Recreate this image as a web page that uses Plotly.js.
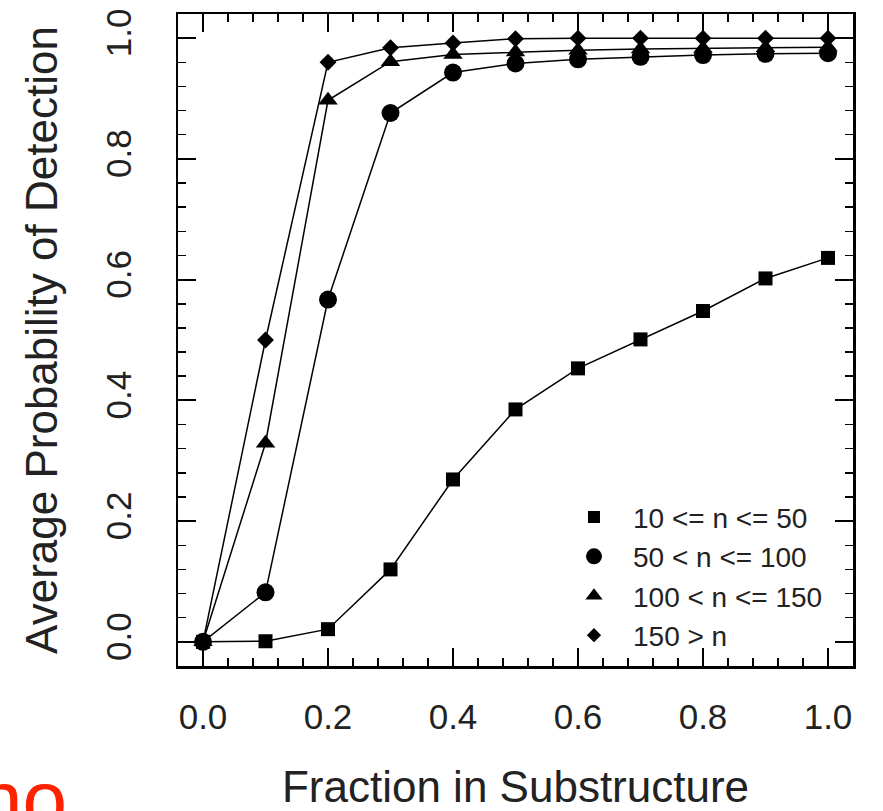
<!DOCTYPE html>
<html>
<head>
<meta charset="utf-8">
<script src="https://cdn.plot.ly/plotly-3.0.1.min.js"></script>
<style>
  html, body { margin: 0; padding: 0; background: #ffffff; }
  #chart { width: 883px; height: 811px; }
</style>
</head>
<body>
<div id="chart"></div>
<script>
// Fraction in substructure (x) and average probability of detection per group
const fraction = [0.0, 0.1, 0.2, 0.3, 0.4, 0.5, 0.6, 0.7, 0.8, 0.9, 1.0];
const seriesNames = ["10 <= n <= 50", "50 < n <= 100", "100 < n <= 150", "150 > n"];
const probSmall  = [0.0, 0.001, 0.021, 0.120, 0.269, 0.385, 0.453, 0.501, 0.548, 0.602, 0.636];
const probMedium = [0.0, 0.082, 0.567, 0.876, 0.943, 0.958, 0.965, 0.969, 0.972, 0.974, 0.975];
const probLarge  = [0.0, 0.329, 0.897, 0.961, 0.973, 0.977, 0.980, 0.982, 0.983, 0.984, 0.985];
const probHuge   = [0.0, 0.500, 0.960, 0.984, 0.992, 0.999, 1.0, 1.0, 1.0, 1.0, 1.0];
// the top series' line runs on past the last point to the frame
const hugeTailX = [1.1];
const hugeTailY = [1.0];

const xTicks = [0.0, 0.2, 0.4, 0.6, 0.8, 1.0];
const yTicks = [0.0, 0.2, 0.4, 0.6, 0.8, 1.0];

const FONT = "Liberation Sans, Arial, Helvetica, sans-serif";
const symbols = ["square", "circle", "triangle-up", "diamond"];
const sizes = [14, 18, 17, 13];
const values = [probSmall, probMedium, probLarge, probHuge];

const traces = [];
values.forEach((v, i) => {
  let xs = fraction, ys = v;
  if (i === 3) { xs = fraction.concat(hugeTailX); ys = v.concat(hugeTailY); }
  traces.push({
    type: "scatter", mode: "lines+markers", x: xs, y: ys,
    line: { color: "#000", width: 1.5 },
    marker: { symbol: symbols[i], size: sizes[i], color: "#000" },
    showlegend: false, cliponaxis: true, hoverinfo: "skip"
  });
});
// legend entries (points only, as in the original)
values.forEach((v, i) => {
  traces.push({
    type: "scatter", mode: "markers", x: [null], y: [null], name: seriesNames[i],
    marker: { symbol: symbols[i], size: sizes[i] - 2, color: "#000" },
    showlegend: true
  });
});

const axisCommon = {
  range: [-0.04, 1.04], tickformat: ".1f",
  showline: true, mirror: "allticks", linecolor: "#000", linewidth: 2.5,
  ticks: "inside", ticklen: 18, tickwidth: 2, tickcolor: "#000",
  minor: { ticks: "inside", ticklen: 8, tickwidth: 1.5, tickcolor: "#000", dtick: 0.04, tick0: 0, showgrid: false },
  showgrid: false, zeroline: false, automargin: false,
  tickfont: { family: FONT, size: 35, color: "#222" }
};

const layout = {
  width: 883, height: 811,
  margin: { l: 178, r: 30, t: 14, b: 145 },
  paper_bgcolor: "#ffffff", plot_bgcolor: "#ffffff",
  font: { family: FONT, color: "#222" },
  xaxis: Object.assign({}, axisCommon, {
    tickvals: xTicks, ticklabelstandoff: 18,
    title: { text: "Fraction in Substructure", font: { family: FONT, size: 44, color: "#222" }, standoff: 46 }
  }),
  yaxis: Object.assign({}, axisCommon, {
    tickvals: yTicks, tickangle: -90, ticklabelstandoff: 31,
    title: { text: "Average Probability of Detection", font: { family: FONT, size: 44, color: "#222" }, standoff: 27 }
  }),
  showlegend: true,
  legend: {
    x: 0.5585, xanchor: "left", y: 0.2665, yanchor: "top",
    font: { family: FONT, size: 28, color: "#222" },
    bgcolor: "rgba(0,0,0,0)", borderwidth: 0, itemwidth: 68,
    tracegroupgap: 0
  },
  annotations: [{
    text: "no", xref: "paper", yref: "paper", x: -0.30, y: -0.205,
    xanchor: "left", yanchor: "middle", showarrow: false,
    font: { family: FONT, size: 80, color: "#ff2200" }
  }]
};

Plotly.newPlot("chart", traces, layout, { staticPlot: true, displayModeBar: false });
</script>
</body>
</html>
